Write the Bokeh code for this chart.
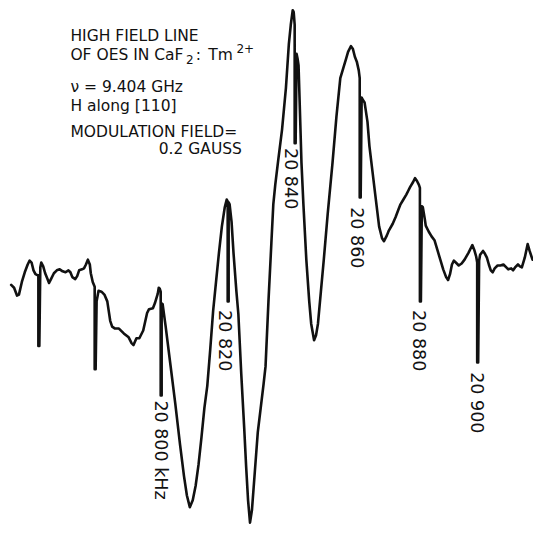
from bokeh.plotting import figure
from bokeh.models import Range1d
from bokeh.embed import file_html
from bokeh.resources import INLINE
from bokeh.core.properties import value
import math

# Recorder trace (sweep position, pen position from top)
sweep = [11, 14, 17, 19, 22, 25, 28, 30, 32, 34, 36, 38, 39, 39, 40, 41, 42, 44, 46, 48, 50, 52, 55, 58, 61, 64,
         67, 70, 72, 74, 77, 79, 81, 84, 86, 88, 90, 92, 93, 95, 97, 97, 98, 99, 101, 104, 107, 110, 113, 115,
         118, 122, 127, 132, 135, 137, 140, 143, 147, 151, 153, 157, 159, 162, 163, 164, 165, 165, 166, 166, 167,
         170, 175, 180, 185, 189, 192, 195, 198, 201, 204, 207, 210, 213, 216, 219, 222, 225, 228, 231, 233,
         234, 234, 235, 235, 236, 238, 240, 243, 245, 248, 251, 253, 255, 257, 259, 262, 265, 268, 271, 273,
         276, 279, 281, 283, 286, 290, 294, 297, 299, 301, 302, 303, 303, 304, 305, 306, 307, 308, 310, 312,
         315, 318, 320, 323, 325, 327, 330, 333, 337, 342, 346, 350, 353, 356, 358, 361, 363, 365, 367, 369,
         370, 370, 371, 372, 373, 375, 378, 380, 383, 386, 390, 393, 395, 398, 400, 404, 407, 410, 412, 415,
         418, 420, 422, 425, 427, 429, 431, 432, 432, 433, 434, 435, 437, 438, 441, 444, 447, 450, 453, 456,
         459, 461, 463, 465, 467, 470, 472, 475, 478, 482, 485, 486, 488, 490, 491, 491, 492, 493, 494, 497,
         499, 501, 503, 505, 507, 509, 512, 515, 518, 521, 523, 526, 528, 530, 533, 535, 537, 540, 543, 545, 548]
pen = [293, 296, 304, 303, 290, 280, 272, 268, 270, 278, 282, 283, 283, 356, 356, 275, 270, 274, 281, 286, 291,
       287, 281, 278, 277, 279, 280, 278, 280, 285, 287, 284, 278, 277, 276, 272, 267, 272, 281, 290, 295, 380,
       380, 310, 299, 300, 303, 310, 330, 336, 338, 338, 343, 347, 353, 355, 348, 348, 340, 322, 318, 317, 312,
       302, 296, 297, 300, 407, 407, 312, 313, 335, 375, 415, 458, 490, 510, 522, 515, 500, 478, 450, 420, 397,
       360, 320, 290, 260, 233, 213, 205, 207, 310, 310, 208, 210, 228, 260, 300, 323, 385, 440, 480, 515, 538,
       525, 485, 445, 420, 395, 377, 310, 250, 210, 190, 165, 133, 90, 45, 25, 10, 12, 25, 147, 147, 55, 60, 67,
       100, 167, 210, 267, 310, 333, 350, 345, 333, 300, 267, 220, 167, 120, 80, 70, 60, 53, 47, 50, 58, 63, 72,
       80, 203, 203, 100, 102, 105, 125, 150, 175, 200, 233, 245, 248, 242, 237, 230, 223, 215, 210, 205, 200,
       196, 192, 187, 183, 186, 190, 193, 310, 310, 212, 213, 225, 232, 238, 243, 247, 257, 267, 277, 285, 288,
       282, 272, 268, 271, 273, 271, 267, 260, 254, 252, 257, 264, 270, 373, 373, 268, 262, 258, 261, 265, 272,
       278, 280, 276, 273, 273, 272, 275, 277, 276, 278, 275, 272, 274, 275, 265, 251, 258, 267]

# Frequency marker labels
marker_labels = ["20 800 kHz", "20 820", "20 840", "20 860", "20 880", "20 900"]
marker_label_x = [165, 231, 299, 367, 431, 491]
marker_label_top = [412, 319, 152, 213, 319, 383]

# Annotation block
note_lines = ["HIGH FIELD LINE", "OF OES IN CaF", "\u03bd = 9.404  GHz", "H along [110]", "MODULATION FIELD=", "0.2 GAUSS"]
note_x = [72, 72, 72, 72, 72, 163]
note_base = [37, 56, 89, 109, 135, 153]

W, H = 533, 528
TOP = 544  # flip pen position so that up is positive
level = [TOP - v for v in pen]

p = figure(width=W, height=H, output_backend="svg", toolbar_location=None,
           x_range=Range1d(0, 549), y_range=Range1d(0, 544),
           min_border=0, min_border_left=0, min_border_right=0, min_border_top=0, min_border_bottom=0)
p.axis.visible = False
p.grid.visible = False
p.outline_line_color = None
p.background_fill_color = "white"
p.border_fill_color = "white"

ink = "#111111"
p.line(sweep, level, line_color=ink, line_width=2.6, line_join="round", line_cap="round")

font = value("DejaVu Sans")
p.text(x=marker_label_x, y=[TOP - v for v in marker_label_top], text=marker_labels,
       angle=-math.pi / 2, text_align="left", text_baseline="middle",
       text_font=font, text_font_size="17.5px", text_color=ink)

p.text(x=note_x, y=[TOP - v for v in note_base], text=note_lines,
       text_align="left", text_baseline="alphabetic",
       text_font=font, text_font_size="15.5px", text_color=ink)
# subscript / superscript parts of "CaF2 : Tm2+"
p.text(x=[191], y=[TOP - 61], text=["2"], text_baseline="alphabetic",
       text_font=font, text_font_size="12px", text_color=ink)
p.text(x=[201], y=[TOP - 56], text=[":"], text_baseline="alphabetic",
       text_font=font, text_font_size="15.5px", text_color=ink)
p.text(x=[214], y=[TOP - 56], text=["Tm"], text_baseline="alphabetic",
       text_font=font, text_font_size="15.5px", text_color=ink)
p.text(x=[243], y=[TOP - 49], text=["2+"], text_baseline="alphabetic",
       text_font=font, text_font_size="12px", text_color=ink)

open("out.html", "w").write(file_html(p, INLINE))
